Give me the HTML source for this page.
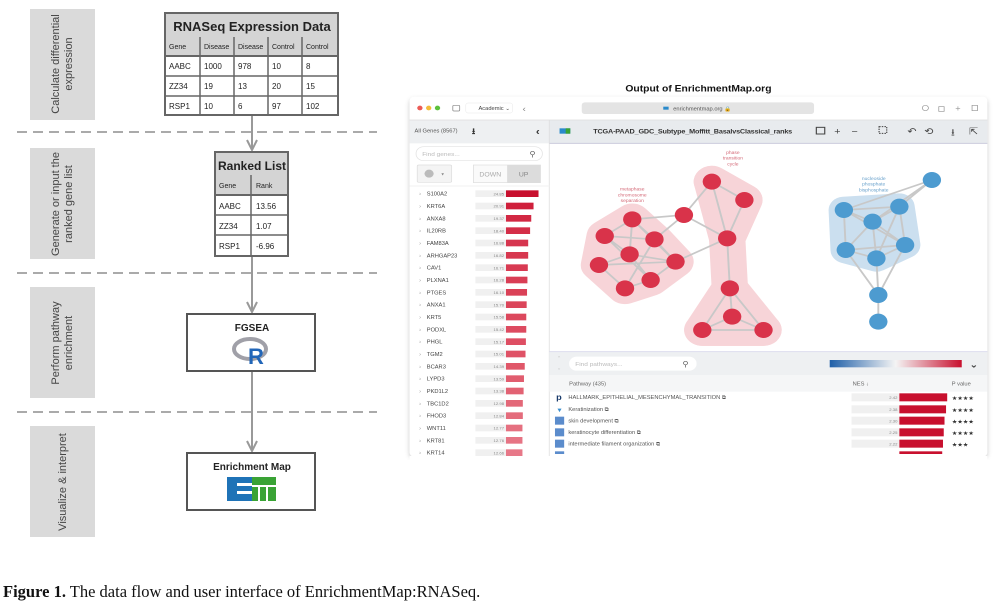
<!DOCTYPE html>
<html><head><meta charset="utf-8"><style>
html,body{margin:0;padding:0;background:#fff;}
body{width:1000px;height:608px;position:relative;overflow:hidden;}
</style></head><body>
<svg width="1000" height="608" viewBox="0 0 1000 608" style="position:absolute;left:0;top:0" font-family="Liberation Sans, sans-serif">
<rect x="30" y="9" width="65" height="111" fill="#dadada"/>
<rect x="30" y="148" width="65" height="111" fill="#dadada"/>
<rect x="30" y="287" width="65" height="111" fill="#dadada"/>
<rect x="30" y="426" width="65" height="111" fill="#dadada"/>
<g font-size="11" fill="#444" text-anchor="middle">
<text transform="translate(62,64) rotate(-90)"><tspan x="0" y="-3">Calculate differential</tspan><tspan x="0" y="10">expression</tspan></text>
<text transform="translate(62,204) rotate(-90)"><tspan x="0" y="-3">Generate or input the</tspan><tspan x="0" y="10">ranked gene list</tspan></text>
<text transform="translate(62,343) rotate(-90)"><tspan x="0" y="-3">Perform pathway</tspan><tspan x="0" y="10">enrichment</tspan></text>
<text transform="translate(62,482) rotate(-90)"><tspan x="0" y="4">Visualize &amp; interpret</tspan></text>
</g>
<g stroke="#aaa" stroke-width="2" stroke-dasharray="10,6">
<line x1="17" y1="132" x2="377" y2="132"/>
<line x1="17" y1="273" x2="377" y2="273"/>
<line x1="17" y1="412" x2="377" y2="412"/>
</g>
<g stroke="#999" stroke-width="2" fill="none">
<line x1="252" y1="115" x2="252" y2="150"/>
<polyline points="247,140 252,150 257,140"/>
<line x1="252" y1="256" x2="252" y2="312"/>
<polyline points="247,302 252,312 257,302"/>
<line x1="252" y1="371" x2="252" y2="451"/>
<polyline points="247,441 252,451 257,441"/>
</g>
<g stroke="#666" stroke-width="1.5">
<rect x="165" y="13" width="173" height="43" fill="#d4d4d4" stroke-width="2"/>
<rect x="165" y="56" width="173" height="59" fill="#fff" stroke-width="2"/>
<line x1="165" y1="76" x2="338" y2="76"/>
<line x1="165" y1="96" x2="338" y2="96"/>
<line x1="200" y1="37" x2="200" y2="115"/>
<line x1="234" y1="37" x2="234" y2="115"/>
<line x1="268" y1="37" x2="268" y2="115"/>
<line x1="302" y1="37" x2="302" y2="115"/>
</g>
<text x="252" y="31" font-size="13" font-weight="bold" text-anchor="middle" fill="#222">RNASeq Expression Data</text>
<g font-size="7" fill="#222">
<text x="169" y="49">Gene</text><text x="204" y="49">Disease</text><text x="238" y="49">Disease</text><text x="272" y="49">Control</text><text x="306" y="49">Control</text>
</g>
<g font-size="8" fill="#222">
<text x="169" y="69">AABC</text><text x="204" y="69">1000</text><text x="238" y="69">978</text><text x="272" y="69">10</text><text x="306" y="69">8</text>
<text x="169" y="89">ZZ34</text><text x="204" y="89">19</text><text x="238" y="89">13</text><text x="272" y="89">20</text><text x="306" y="89">15</text>
<text x="169" y="109">RSP1</text><text x="204" y="109">10</text><text x="238" y="109">6</text><text x="272" y="109">97</text><text x="306" y="109">102</text>
</g>
<g stroke="#666" stroke-width="1.5">
<rect x="215" y="152" width="73" height="43" fill="#d4d4d4" stroke-width="2"/>
<rect x="215" y="195" width="73" height="61" fill="#fff" stroke-width="2"/>
<line x1="215" y1="215" x2="288" y2="215"/>
<line x1="215" y1="235" x2="288" y2="235"/>
<line x1="251" y1="175" x2="251" y2="256"/>
</g>
<text x="252" y="170" font-size="12" font-weight="bold" text-anchor="middle" fill="#222">Ranked List</text>
<g font-size="7" fill="#222"><text x="219" y="188">Gene</text><text x="256" y="188">Rank</text></g>
<g font-size="8" fill="#222">
<text x="219" y="209">AABC</text><text x="256" y="209">13.56</text>
<text x="219" y="229">ZZ34</text><text x="256" y="229">1.07</text>
<text x="219" y="249">RSP1</text><text x="256" y="249">-6.96</text>
</g>
<rect x="187" y="314" width="128" height="57" fill="#fff" stroke="#555" stroke-width="2"/>
<text x="252" y="331" font-size="10" font-weight="bold" text-anchor="middle" fill="#222">FGSEA</text>
<ellipse cx="250" cy="349" rx="16" ry="10" fill="none" stroke="#a0a0a8" stroke-width="4"/>
<text x="256" y="364" font-size="22" font-weight="bold" text-anchor="middle" fill="#2266b8">R</text>
<rect x="187" y="453" width="128" height="57" fill="#fff" stroke="#555" stroke-width="2"/>
<text x="252" y="470" font-size="10" font-weight="bold" text-anchor="middle" fill="#222">Enrichment Map</text>
<rect x="227" y="477" width="25" height="24" fill="#1f73b7"/>
<rect x="252" y="477" width="24" height="24" fill="#3aa335"/>
<rect x="237" y="483" width="15" height="3" fill="#fff"/>
<rect x="237" y="491" width="15" height="3" fill="#fff"/>
<rect x="252" y="485" width="24" height="2" fill="#fff"/>
<rect x="258" y="487" width="2" height="14" fill="#fff"/>
<rect x="266" y="487" width="2" height="14" fill="#fff"/>
<text x="3" y="597" font-family="Liberation Serif, serif" font-size="16.5" fill="#111"><tspan font-weight="bold">Figure 1.</tspan>  The data flow and user interface of EnrichmentMap:RNASeq.</text>
</svg>

<svg width="600" height="380" viewBox="0 0 1568 1140" preserveAspectRatio="none" style="position:absolute;left:400px;top:80px" font-family="Liberation Sans, sans-serif">
<defs>
<linearGradient id="g" x1="0" x2="1"><stop offset="0" stop-color="#1f5fa8"/><stop offset="0.5" stop-color="#f4f4f4"/><stop offset="1" stop-color="#c8102e"/></linearGradient>
<filter id="sh" x="-5%" y="-5%" width="110%" height="110%"><feGaussianBlur stdDeviation="6"/></filter>
</defs>
<text x="780" y="34" font-size="27" font-weight="bold" text-anchor="middle" fill="#111">Output of EnrichmentMap.org</text>
<rect x="25" y="56" width="1510" height="1080" rx="14" fill="#888" opacity="0.45" filter="url(#sh)"/>
<rect x="25" y="50" width="1510" height="1080" rx="12" fill="#fff"/>
<circle cx="52" cy="84" r="7" fill="#ec5b56"/><circle cx="75" cy="84" r="7" fill="#f4bd3b"/><circle cx="98" cy="84" r="7" fill="#5cc13b"/>
<rect x="138" y="76" width="18" height="17" rx="3" fill="none" stroke="#888" stroke-width="2"/>
<rect x="172" y="69" width="122" height="30" rx="6" fill="#fff" stroke="#ddd"/>
<text x="205" y="90" font-size="15" fill="#444">Academic ⌄</text>
<text x="320" y="94" font-size="26" fill="#888">‹</text>
<rect x="475" y="67" width="607" height="35" rx="8" fill="#e4e4e4"/>
<rect x="688" y="80" width="14" height="9" fill="#2a8acb"/>
<text x="790" y="92" font-size="15" text-anchor="middle" fill="#555">enrichmentmap.org 🔒</text>
<g fill="none" stroke="#999" stroke-width="2"><circle cx="1373" cy="84" r="8"/><rect x="1408" y="80" width="14" height="14"/><rect x="1495" y="76" width="14" height="16"/></g>
<text x="1458" y="93" font-size="24" text-anchor="middle" fill="#999">+</text>
<rect x="25" y="120" width="365" height="70" fill="#eef0f2"/>
<rect x="390" y="120" width="1145" height="70" fill="#e8ebee"/>
<line x1="25" y1="120" x2="1535" y2="120" stroke="#ddd" stroke-width="2"/>
<line x1="390" y1="190" x2="1535" y2="190" stroke="#ccd" stroke-width="3"/>
<text x="38" y="158" font-size="15" fill="#555">All Genes (8567)</text>
<text x="188" y="162" font-size="26" font-weight="bold" fill="#333">⭳</text>
<text x="355" y="164" font-size="30" font-weight="bold" fill="#333">‹</text>
<rect x="417" y="145" width="28" height="16" fill="#2a8acb"/><rect x="433" y="145" width="12" height="16" fill="#3aa335"/>
<text x="505" y="161" font-size="19" font-weight="bold" fill="#333" textLength="520">TCGA-PAAD_GDC_Subtype_Moffitt_BasalvsClassical_ranks</text>
<g font-size="28" fill="#444">
<rect x="1088" y="142" width="22" height="20" fill="none" stroke="#444" stroke-width="3"/>
<text x="1135" y="164">+</text><text x="1180" y="164">−</text>
<rect x="1252" y="140" width="20" height="20" fill="none" stroke="#444" stroke-width="3" stroke-dasharray="4,3"/>
<text x="1326" y="164">↶</text><text x="1370" y="164">⟲</text>
<text x="1440" y="166">⭳</text><text x="1487" y="164">⇱</text>
</g>
<line x1="390" y1="120" x2="390" y2="1130" stroke="#ddd" stroke-width="2"/>
<rect x="42" y="200" width="330" height="42" rx="20" fill="#fff" stroke="#e2e2e2" stroke-width="2"/>
<text x="58" y="228" font-size="17" fill="#bbb">Find genes...</text>
<text x="338" y="230" font-size="22" fill="#666">⚲</text>
<rect x="45" y="255" width="90" height="52" rx="4" fill="#f4f4f4" stroke="#ddd" stroke-width="2"/>
<circle cx="76" cy="281" r="12" fill="#bbb"/><text x="108" y="287" font-size="14" fill="#888">▾</text>
<rect x="192" y="255" width="175" height="53" fill="#fafafa" stroke="#ddd" stroke-width="2"/>
<rect x="280" y="255" width="87" height="53" fill="#dcdcdc"/>
<text x="236" y="289" font-size="18" text-anchor="middle" fill="#aaa">DOWN</text>
<text x="323" y="289" font-size="18" text-anchor="middle" fill="#888">UP</text>
<line x1="25" y1="318" x2="390" y2="318" stroke="#eee" stroke-width="2"/>
<g font-size="15" fill="#444">
<g transform="translate(0,341)"><text x="50" y="6" fill="#999">›</text><text x="70" y="6">S100A2</text><rect x="197" y="-10" width="80" height="20" fill="#f0f0f0"/><text x="272" y="5" font-size="11" text-anchor="end" fill="#888">24.85</text><rect x="277" y="-10" width="85" height="20" fill="#c8102e"/></g>
<g transform="translate(0,378)"><text x="50" y="6" fill="#999">›</text><text x="70" y="6">KRT6A</text><rect x="197" y="-10" width="80" height="20" fill="#f0f0f0"/><text x="272" y="5" font-size="11" text-anchor="end" fill="#888">20.91</text><rect x="277" y="-10" width="72" height="20" fill="#cf1f3b"/></g>
<g transform="translate(0,415)"><text x="50" y="6" fill="#999">›</text><text x="70" y="6">ANXA8</text><rect x="197" y="-10" width="80" height="20" fill="#f0f0f0"/><text x="272" y="5" font-size="11" text-anchor="end" fill="#888">19.37</text><rect x="277" y="-10" width="66" height="20" fill="#d22843"/></g>
<g transform="translate(0,452)"><text x="50" y="6" fill="#999">›</text><text x="70" y="6">IL20RB</text><rect x="197" y="-10" width="80" height="20" fill="#f0f0f0"/><text x="272" y="5" font-size="11" text-anchor="end" fill="#888">18.40</text><rect x="277" y="-10" width="63" height="20" fill="#d42e48"/></g>
<g transform="translate(0,489)"><text x="50" y="6" fill="#999">›</text><text x="70" y="6">FAM83A</text><rect x="197" y="-10" width="80" height="20" fill="#f0f0f0"/><text x="272" y="5" font-size="11" text-anchor="end" fill="#888">16.88</text><rect x="277" y="-10" width="58" height="20" fill="#d6364f"/></g>
<g transform="translate(0,526)"><text x="50" y="6" fill="#999">›</text><text x="70" y="6">ARHGAP23</text><rect x="197" y="-10" width="80" height="20" fill="#f0f0f0"/><text x="272" y="5" font-size="11" text-anchor="end" fill="#888">16.82</text><rect x="277" y="-10" width="58" height="20" fill="#d7384f"/></g>
<g transform="translate(0,563)"><text x="50" y="6" fill="#999">›</text><text x="70" y="6">CAV1</text><rect x="197" y="-10" width="80" height="20" fill="#f0f0f0"/><text x="272" y="5" font-size="11" text-anchor="end" fill="#888">16.71</text><rect x="277" y="-10" width="57" height="20" fill="#d83a52"/></g>
<g transform="translate(0,600)"><text x="50" y="6" fill="#999">›</text><text x="70" y="6">PLXNA1</text><rect x="197" y="-10" width="80" height="20" fill="#f0f0f0"/><text x="272" y="5" font-size="11" text-anchor="end" fill="#888">16.28</text><rect x="277" y="-10" width="56" height="20" fill="#d93e55"/></g>
<g transform="translate(0,637)"><text x="50" y="6" fill="#999">›</text><text x="70" y="6">PTGES</text><rect x="197" y="-10" width="80" height="20" fill="#f0f0f0"/><text x="272" y="5" font-size="11" text-anchor="end" fill="#888">16.10</text><rect x="277" y="-10" width="55" height="20" fill="#da4157"/></g>
<g transform="translate(0,674)"><text x="50" y="6" fill="#999">›</text><text x="70" y="6">ANXA1</text><rect x="197" y="-10" width="80" height="20" fill="#f0f0f0"/><text x="272" y="5" font-size="11" text-anchor="end" fill="#888">15.70</text><rect x="277" y="-10" width="54" height="20" fill="#db455a"/></g>
<g transform="translate(0,711)"><text x="50" y="6" fill="#999">›</text><text x="70" y="6">KRT5</text><rect x="197" y="-10" width="80" height="20" fill="#f0f0f0"/><text x="272" y="5" font-size="11" text-anchor="end" fill="#888">15.58</text><rect x="277" y="-10" width="53" height="20" fill="#dc485d"/></g>
<g transform="translate(0,748)"><text x="50" y="6" fill="#999">›</text><text x="70" y="6">PODXL</text><rect x="197" y="-10" width="80" height="20" fill="#f0f0f0"/><text x="272" y="5" font-size="11" text-anchor="end" fill="#888">15.42</text><rect x="277" y="-10" width="53" height="20" fill="#dd4b60"/></g>
<g transform="translate(0,785)"><text x="50" y="6" fill="#999">›</text><text x="70" y="6">PHGL</text><rect x="197" y="-10" width="80" height="20" fill="#f0f0f0"/><text x="272" y="5" font-size="11" text-anchor="end" fill="#888">15.17</text><rect x="277" y="-10" width="52" height="20" fill="#de4e63"/></g>
<g transform="translate(0,822)"><text x="50" y="6" fill="#999">›</text><text x="70" y="6">TGM2</text><rect x="197" y="-10" width="80" height="20" fill="#f0f0f0"/><text x="272" y="5" font-size="11" text-anchor="end" fill="#888">15.01</text><rect x="277" y="-10" width="51" height="20" fill="#df5266"/></g>
<g transform="translate(0,859)"><text x="50" y="6" fill="#999">›</text><text x="70" y="6">BCAR3</text><rect x="197" y="-10" width="80" height="20" fill="#f0f0f0"/><text x="272" y="5" font-size="11" text-anchor="end" fill="#888">14.39</text><rect x="277" y="-10" width="49" height="20" fill="#e05769"/></g>
<g transform="translate(0,896)"><text x="50" y="6" fill="#999">›</text><text x="70" y="6">LYPD3</text><rect x="197" y="-10" width="80" height="20" fill="#f0f0f0"/><text x="272" y="5" font-size="11" text-anchor="end" fill="#888">13.59</text><rect x="277" y="-10" width="47" height="20" fill="#e15d6f"/></g>
<g transform="translate(0,933)"><text x="50" y="6" fill="#999">›</text><text x="70" y="6">PKD1L2</text><rect x="197" y="-10" width="80" height="20" fill="#f0f0f0"/><text x="272" y="5" font-size="11" text-anchor="end" fill="#888">13.38</text><rect x="277" y="-10" width="46" height="20" fill="#e26273"/></g>
<g transform="translate(0,970)"><text x="50" y="6" fill="#999">›</text><text x="70" y="6">TBC1D2</text><rect x="197" y="-10" width="80" height="20" fill="#f0f0f0"/><text x="272" y="5" font-size="11" text-anchor="end" fill="#888">12.98</text><rect x="277" y="-10" width="44" height="20" fill="#e36878"/></g>
<g transform="translate(0,1007)"><text x="50" y="6" fill="#999">›</text><text x="70" y="6">FHOD3</text><rect x="197" y="-10" width="80" height="20" fill="#f0f0f0"/><text x="272" y="5" font-size="11" text-anchor="end" fill="#888">12.84</text><rect x="277" y="-10" width="44" height="20" fill="#e46c7c"/></g>
<g transform="translate(0,1044)"><text x="50" y="6" fill="#999">›</text><text x="70" y="6">WNT11</text><rect x="197" y="-10" width="80" height="20" fill="#f0f0f0"/><text x="272" y="5" font-size="11" text-anchor="end" fill="#888">12.77</text><rect x="277" y="-10" width="43" height="20" fill="#e57080"/></g>
<g transform="translate(0,1081)"><text x="50" y="6" fill="#999">›</text><text x="70" y="6">KRT81</text><rect x="197" y="-10" width="80" height="20" fill="#f0f0f0"/><text x="272" y="5" font-size="11" text-anchor="end" fill="#888">12.76</text><rect x="277" y="-10" width="43" height="20" fill="#e67484"/></g>
<g transform="translate(0,1118)"><text x="50" y="6" fill="#999">›</text><text x="70" y="6">KRT14</text><rect x="197" y="-10" width="80" height="20" fill="#f0f0f0"/><text x="272" y="5" font-size="11" text-anchor="end" fill="#888">12.66</text><rect x="277" y="-10" width="43" height="20" fill="#e77888"/></g>
</g>
<g stroke-linejoin="round" stroke-linecap="round" fill="#f7d0d4" stroke="#f7d0d4" stroke-width="95" opacity="0.9">
<polygon points="607,418 535,468 520,555 588,625 655,600 720,545 665,478"/>
<polyline fill="none" points="815,305 900,360 855,475 862,625 868,710 790,750 950,750 868,710"/>
<polygon points="815,305 900,360 855,475"/>
<polygon points="862,625 790,750 950,750"/>
</g>
<g fill="#c6dcee" stroke="#c6dcee" stroke-width="80" stroke-linejoin="round" opacity="0.9">
<polygon points="1160,390 1305,380 1320,495 1245,535 1165,510"/>
</g>
<g stroke="#c8c8c8" stroke-width="5" fill="none">
<path d="M607,418 L535,468 L600,523 L520,555 L588,625 L655,600 L720,545 L665,478 L607,418 L600,523 L655,600 M535,468 L665,478 L588,625 M607,418 L720,545 M520,555 L720,545 M535,468 L655,600 M600,523 L720,545"/>
<path d="M607,418 L742,405 L815,305 L900,360 L855,475 L742,405 L665,478 M815,305 L855,475 M720,545 L855,475 L862,625 L868,710 L790,750 L950,750 L868,710 M862,625 L790,750 M862,625 L950,750"/>
<path d="M1390,300 L1160,390 M1390,300 L1305,380 M1390,300 L1235,425 M1160,390 L1305,380 L1235,425 L1160,390 L1165,510 L1245,535 L1320,495 L1305,380 M1235,425 L1165,510 M1235,425 L1320,495 M1235,425 L1245,535 M1160,390 L1320,495 M1305,380 L1245,535 M1165,510 L1320,495 M1165,510 L1250,645 L1245,535 M1320,495 L1250,645 L1250,725"/>
</g>
<g fill="#d9334a">
<circle cx="607" cy="418" r="24"/><circle cx="535" cy="468" r="24"/><circle cx="665" cy="478" r="24"/><circle cx="600" cy="523" r="24"/><circle cx="520" cy="555" r="24"/><circle cx="720" cy="545" r="24"/><circle cx="588" cy="625" r="24"/><circle cx="655" cy="600" r="24"/>
<circle cx="742" cy="405" r="24"/><circle cx="815" cy="305" r="24"/><circle cx="900" cy="360" r="24"/><circle cx="855" cy="475" r="24"/>
<circle cx="862" cy="625" r="24"/><circle cx="868" cy="710" r="24"/><circle cx="790" cy="750" r="24"/><circle cx="950" cy="750" r="24"/>
</g>
<g fill="#4d9bd0">
<circle cx="1390" cy="300" r="24"/><circle cx="1160" cy="390" r="24"/><circle cx="1305" cy="380" r="24"/><circle cx="1235" cy="425" r="24"/><circle cx="1165" cy="510" r="24"/><circle cx="1320" cy="495" r="24"/><circle cx="1245" cy="535" r="24"/><circle cx="1250" cy="645" r="24"/><circle cx="1250" cy="725" r="24"/>
</g>
<g font-size="13" fill="#d46a78" text-anchor="middle">
<text x="607" y="332">metaphase</text><text x="607" y="349">chromosome</text><text x="607" y="366">separation</text>
<text x="870" y="222">phase</text><text x="870" y="239">transition</text><text x="870" y="256">cycle</text>
</g>
<g font-size="13" fill="#6aa2cc" text-anchor="middle">
<text x="1238" y="300">nucleoside</text><text x="1238" y="317">phosphate</text><text x="1238" y="334">bisphosphate</text>
</g>
<rect x="390" y="815" width="1145" height="70" fill="#eef0f2"/>
<line x1="390" y1="815" x2="1535" y2="815" stroke="#dde" stroke-width="3"/>
<text x="410" y="838" font-size="14" fill="#bbb">⌃</text><text x="410" y="868" font-size="14" fill="#bbb">⌄</text>
<rect x="442" y="830" width="333" height="42" rx="20" fill="#fff"/>
<text x="458" y="858" font-size="17" fill="#bbb">Find pathways...</text>
<text x="738" y="860" font-size="22" fill="#666">⚲</text>
<rect x="1123" y="840" width="345" height="22" fill="url(#g)"/>
<text x="1500" y="862" font-size="26" font-weight="bold" text-anchor="middle" fill="#444">⌄</text>
<rect x="390" y="885" width="1145" height="50" fill="#f5f6f7"/>
<text x="442" y="917" font-size="15" fill="#666">Pathway (435)</text>
<text x="1183" y="917" font-size="15" fill="#666">NES ↓</text>
<text x="1442" y="917" font-size="15" fill="#666">P value</text>
<g font-size="15" fill="#555">
<g transform="translate(0,952)"><text x="408" y="8" font-size="24" font-weight="bold" fill="#1a3b6b">p</text><text x="440" y="5">HALLMARK_EPITHELIAL_MESENCHYMAL_TRANSITION ⧉</text><rect x="1180" y="-12" width="125" height="24" fill="#f0f0f0"/><text x="1300" y="5" font-size="11" text-anchor="end" fill="#888">2.42</text><rect x="1305" y="-12" width="125" height="24" fill="#c8102e"/><text x="1442" y="8" font-size="16" fill="#333">★★★★</text></g>
<g transform="translate(0,988)"><text x="408" y="8" font-size="18" fill="#3a8fcf">▼</text><text x="440" y="5">Keratinization ⧉</text><rect x="1180" y="-12" width="125" height="24" fill="#f0f0f0"/><text x="1300" y="5" font-size="11" text-anchor="end" fill="#888">2.38</text><rect x="1305" y="-12" width="122" height="24" fill="#c8102e"/><text x="1442" y="8" font-size="16" fill="#333">★★★★</text></g>
<g transform="translate(0,1022)"><rect x="405" y="-12" width="24" height="24" fill="#5b8ccc"/><text x="440" y="5">skin development ⧉</text><rect x="1180" y="-12" width="125" height="24" fill="#f0f0f0"/><text x="1300" y="5" font-size="11" text-anchor="end" fill="#888">2.30</text><rect x="1305" y="-12" width="118" height="24" fill="#c8102e"/><text x="1442" y="8" font-size="16" fill="#333">★★★★</text></g>
<g transform="translate(0,1057)"><rect x="405" y="-12" width="24" height="24" fill="#5b8ccc"/><text x="440" y="5">keratinocyte differentiation ⧉</text><rect x="1180" y="-12" width="125" height="24" fill="#f0f0f0"/><text x="1300" y="5" font-size="11" text-anchor="end" fill="#888">2.25</text><rect x="1305" y="-12" width="116" height="24" fill="#c8102e"/><text x="1442" y="8" font-size="16" fill="#333">★★★★</text></g>
<g transform="translate(0,1091)"><rect x="405" y="-12" width="24" height="24" fill="#5b8ccc"/><text x="440" y="5">intermediate filament organization ⧉</text><rect x="1180" y="-12" width="125" height="24" fill="#f0f0f0"/><text x="1300" y="5" font-size="11" text-anchor="end" fill="#888">2.22</text><rect x="1305" y="-12" width="114" height="24" fill="#c8102e"/><text x="1442" y="8" font-size="16" fill="#333">★★★</text></g>
<g transform="translate(0,1122)"><rect x="405" y="-8" width="24" height="8" fill="#5b8ccc"/><rect x="1305" y="-8" width="112" height="8" fill="#c8102e"/></g>
</g>
<rect x="25" y="1128" width="1510" height="12" fill="#fff"/>
</svg>
</body></html>
